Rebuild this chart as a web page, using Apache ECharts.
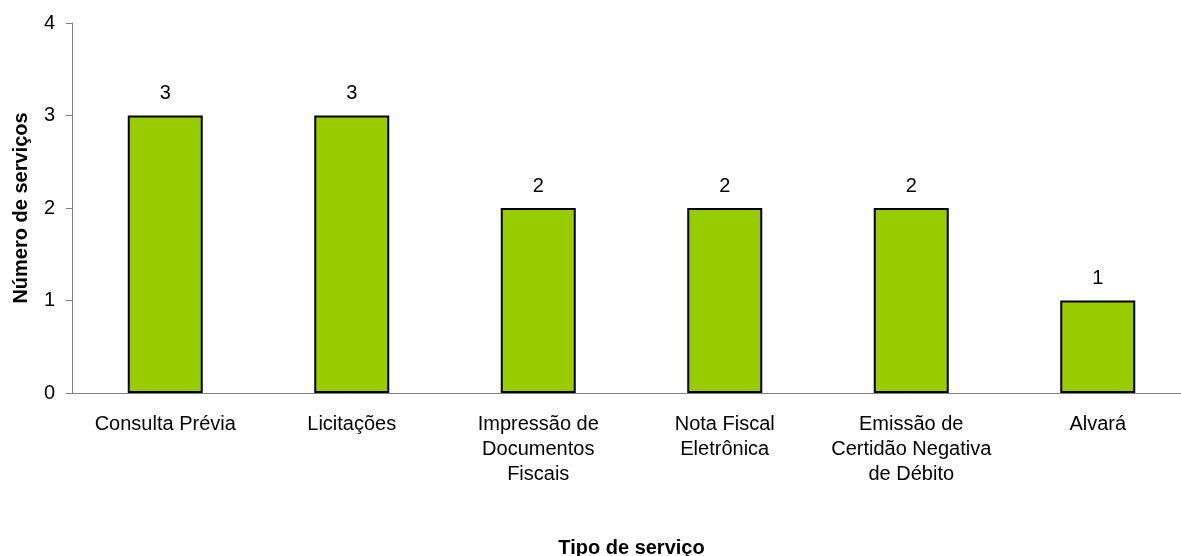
<!DOCTYPE html>
<html>
<head>
<meta charset="utf-8">
<script src="https://cdn.jsdelivr.net/npm/echarts@6/dist/echarts.min.js"></script>
<style>
  html, body { margin: 0; padding: 0; background: #fff; }
  #chart { width: 1181px; height: 556px; }
</style>
</head>
<body>
<div id="chart"></div>
<script>
// Service types and how many services of each type
const categories = [
  'Consulta Prévia',
  'Licitações',
  'Impressão de\nDocumentos\nFiscais',
  'Nota Fiscal\nEletrônica',
  'Emissão de\nCertidão Negativa\nde Débito',
  'Alvará'
];
const serviceCounts = [3, 3, 2, 2, 2, 1];
const yTicks = [0, 1, 2, 3, 4];

const FONT = '"Liberation Sans", Arial, sans-serif';
const AXIS_GRAY = '#808080';

const chart = echarts.init(document.getElementById('chart'), null, { renderer: 'canvas' });

chart.setOption({
  animation: false,
  backgroundColor: '#ffffff',
  grid: {
    left: 72, right: -10, top: 23, bottom: 163,
    containLabel: false,
    outerBoundsMode: 'none'
  },
  xAxis: {
    type: 'category',
    data: categories,
    name: 'Tipo de serviço',
    nameLocation: 'middle',
    nameGap: 145,
    nameTextStyle: { fontFamily: FONT, fontSize: 20, fontWeight: 'bold', color: '#000' },
    axisLine: { lineStyle: { color: AXIS_GRAY, width: 1 } },
    axisTick: { alignWithLabel: false, length: 6, lineStyle: { color: AXIS_GRAY } },
    axisLabel: {
      interval: 0,
      margin: 19,
      fontFamily: FONT,
      fontSize: 20,
      lineHeight: 25,
      color: '#000'
    }
  },
  yAxis: {
    type: 'value',
    min: yTicks[0],
    max: yTicks[yTicks.length - 1],
    interval: 1,
    name: 'Número de serviços',
    nameLocation: 'middle',
    nameGap: 41,
    nameTextStyle: { fontFamily: FONT, fontSize: 20, fontWeight: 'bold', color: '#000' },
    axisLine: { show: true, lineStyle: { color: AXIS_GRAY, width: 1 } },
    axisTick: { show: true, length: 6, lineStyle: { color: AXIS_GRAY } },
    splitLine: { show: false },
    axisLabel: { margin: 17, fontFamily: FONT, fontSize: 20, color: '#000' }
  },
  series: [{
    type: 'bar',
    data: serviceCounts,
    barWidth: 75,
    itemStyle: { color: '#99CC00', borderColor: '#000', borderWidth: 2 },
    label: {
      show: true,
      position: 'top',
      distance: 12,
      fontFamily: FONT,
      fontSize: 20,
      color: '#000'
    }
  }]
});
</script>
</body>
</html>
